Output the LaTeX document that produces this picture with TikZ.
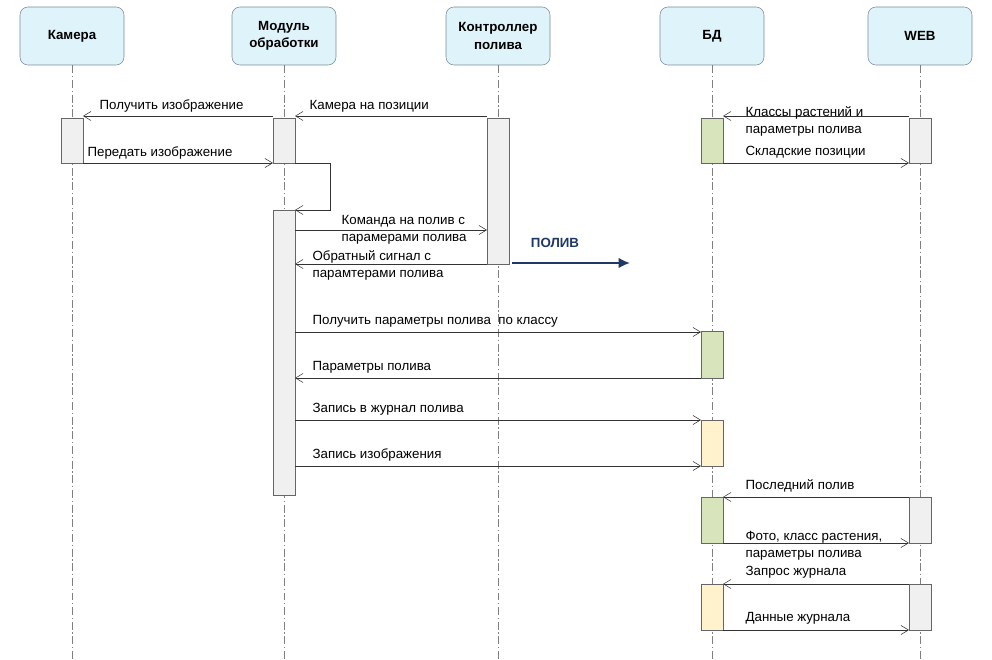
\documentclass[tikz,border=0pt]{standalone}
\usepackage{fontspec}
\setmainfont{Liberation Sans}
\usetikzlibrary{arrows.meta}
\definecolor{hdr}{HTML}{DFF4FA}
\definecolor{hdrline}{HTML}{7A8A96}
\definecolor{actg}{HTML}{F0F0F0}
\definecolor{actgreen}{HTML}{D8E4BC}
\definecolor{actyel}{HTML}{FFF2CC}
\definecolor{navy}{HTML}{1F3864}
\begin{document}
\begin{tikzpicture}[x=0.0264cm,y=-0.0264cm,font=\fontsize{10pt}{13pt}\selectfont,
  head/.style={draw=hdrline,fill=hdr,rounded corners=6pt,minimum width=104*0.0264cm,minimum height=58*0.0264cm,font=\fontsize{10pt}{13pt}\selectfont\bfseries,align=center},
  life/.style={draw=gray,dash pattern=on 6pt off 2pt on 1pt off 2pt},
  act/.style={draw=gray!80!black,fill=actg},
  msg/.style={draw=black!80,-{Straight Barb[length=2mm,width=2.4mm]}},
  lbl/.style={anchor=south west,inner sep=1pt,align=left}]
\useasboundingbox (0,0) rectangle (992,660);
% headers
\node[head] (h1) at (72,36) {Камера};
\node[head] (h2) at (284,36) {Модуль\\обработки};
\node[head] (h3) at (498,36) {Контроллер\\полива};
\node[head] (h4) at (712,36) {БД};
\node[head] (h5) at (920,36) {WEB};
% lifelines
\foreach \h/\x in {h1/72,h2/284,h3/498,h4/712,h5/920}
  \draw[life] (\h.south) -- (\x,660);
% activations
\draw[act] (61,118) rectangle (83,163);
\draw[act] (273,118) rectangle (295,163);
\draw[act] (273,210) rectangle (295,495);
\draw[act] (487,118) rectangle (509,264);
\draw[act,fill=actgreen] (701,118) rectangle (723,163);
\draw[act,fill=actgreen] (701,331) rectangle (723,378);
\draw[act,fill=actyel] (701,420) rectangle (723,466);
\draw[act,fill=actgreen] (701,497) rectangle (723,543);
\draw[act,fill=actyel] (701,584) rectangle (723,630);
\draw[act] (909,118) rectangle (931,163);
\draw[act] (909,497) rectangle (931,543);
\draw[act] (909,584) rectangle (931,630);
% messages
\coordinate (camR) at (83,0); \coordinate (modL) at (273,0); \coordinate (modR) at (295,0);
\coordinate (ctlL) at (487,0); \coordinate (dbL) at (701,0); \coordinate (dbR) at (723,0);
\coordinate (webL) at (909,0);
\draw[msg] (ctlL |- 0,116) -- (modR |- 0,116);
\node[lbl] at (308,114) {Камера на позиции};
\draw[msg] (modL |- 0,116) -- (camR |- 0,116);
\node[lbl] at (98,114) {Получить изображение};
\draw[msg] (camR |- 0,163) -- (modL |- 0,163);
\node[lbl] at (86,161) {Передать изображение};
\draw[msg] (modR |- 0,163) -- (330,163) -- (330,210) -- (modR |- 0,210);
\draw[msg] (modR |- 0,230) -- (ctlL |- 0,230);
\node[lbl] at (340,246) {Команда на полив с\\парамерами полива};
\draw[msg] (ctlL |- 0,264) -- (modR |- 0,264);
\node[lbl] at (311,282) {Обратный сигнал с\\парамтерами полива};
\draw[navy,line width=1.6pt,-{Latex[length=3mm,width=2.8mm]}] (512,263) -- (630,263);
\node[text=navy,font=\fontsize{10pt}{13pt}\selectfont\bfseries] at (555,243) {ПОЛИВ};
\draw[msg] (modR |- 0,332) -- (dbL |- 0,332);
\node[lbl] at (311,329) {Получить параметры полива\ \ по классу};
\draw[msg] (dbL |- 0,378) -- (modR |- 0,378);
\node[lbl] at (311,375) {Параметры полива};
\draw[msg] (modR |- 0,420) -- (dbL |- 0,420);
\node[lbl] at (311,417) {Запись в журнал полива};
\draw[msg] (modR |- 0,466) -- (dbL |- 0,466);
\node[lbl] at (311,463) {Запись изображения};
\draw[msg] (webL |- 0,116) -- (dbR |- 0,116);
\node[lbl] at (744,138) {Классы растений и\\параметры полива};
\draw[msg] (dbR |- 0,163) -- (webL |- 0,163);
\node[lbl] at (744,160) {Складские позиции};
\draw[msg] (webL |- 0,497) -- (dbR |- 0,497);
\node[lbl] at (744,494) {Последний полив};
\draw[msg] (dbR |- 0,543) -- (webL |- 0,543);
\node[lbl] at (744,562) {Фото, класс растения,\\параметры полива};
\draw[msg] (webL |- 0,584) -- (dbR |- 0,584);
\node[lbl] at (744,580) {Запрос журнала};
\draw[msg] (dbR |- 0,630) -- (webL |- 0,630);
\node[lbl] at (744,626) {Данные журнала};
\end{tikzpicture}
\end{document}
